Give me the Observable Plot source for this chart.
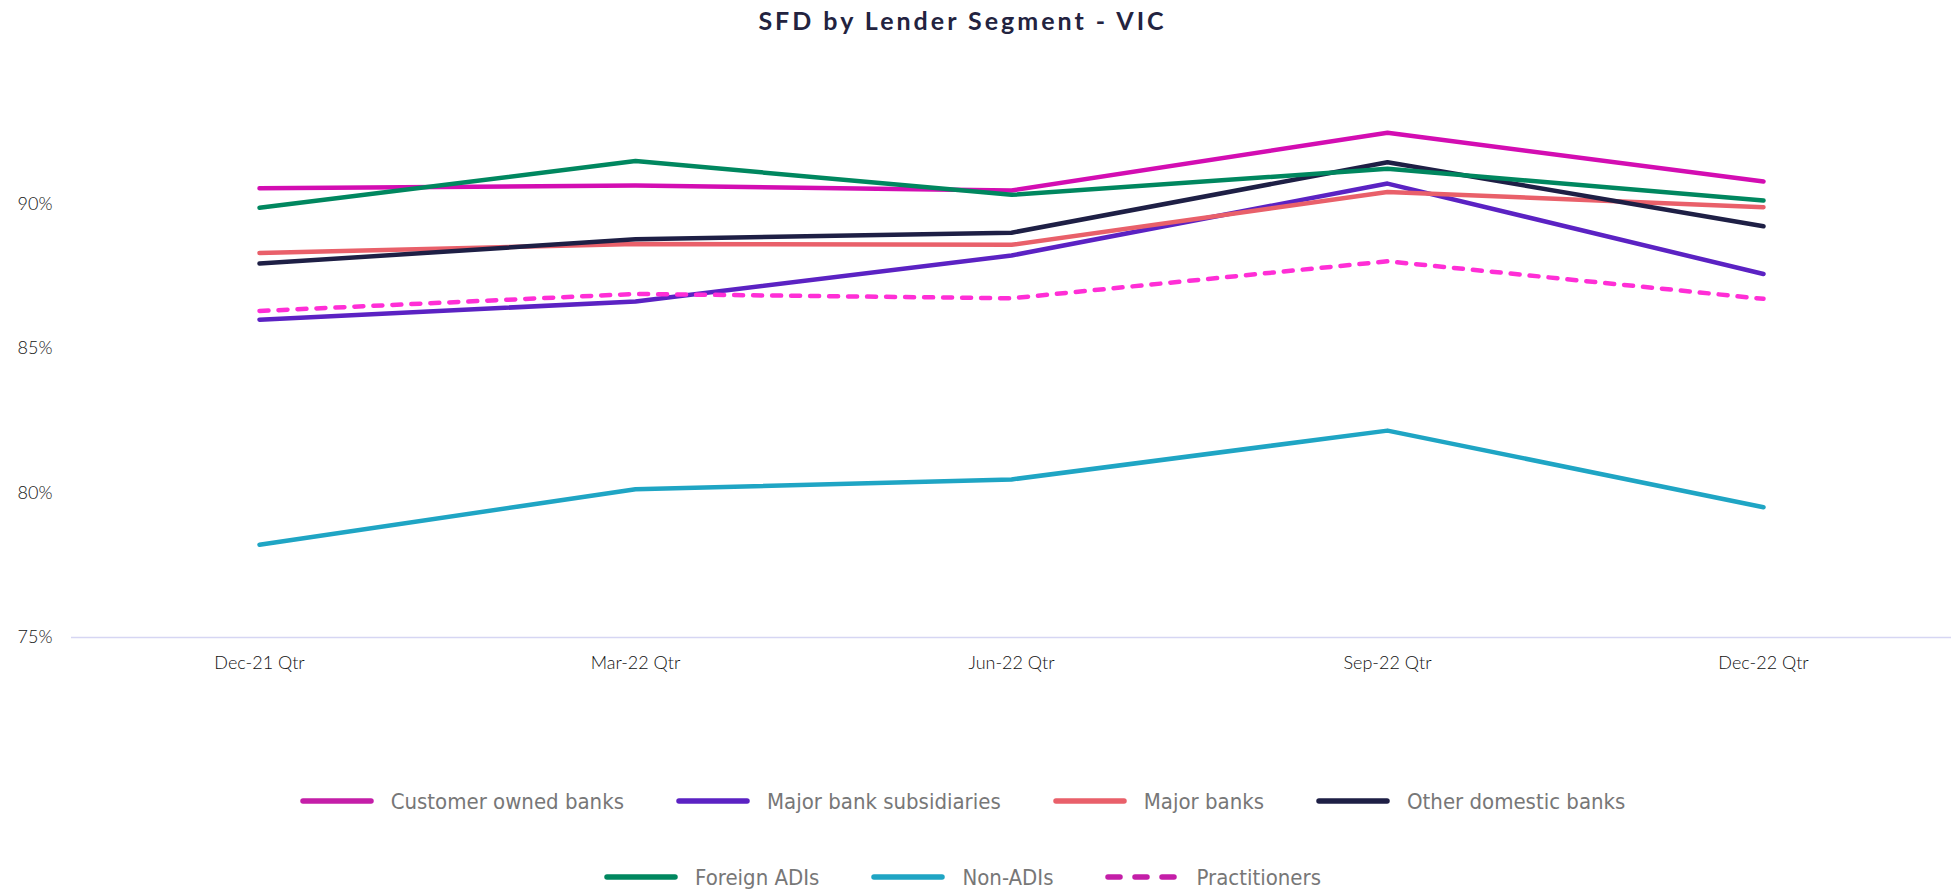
<!DOCTYPE html>
<html>
<head>
<meta charset="utf-8">
<script src="https://cdn.jsdelivr.net/npm/d3@7"></script>
<script src="https://cdn.jsdelivr.net/npm/@observablehq/plot@0.6"></script>
<style>
  body { margin: 0; background: #ffffff; width: 1955px; }
  #title { height: 40px; line-height: 40px; font-family: Lato, sans-serif; font-weight: 700; font-size: 25px; letter-spacing: 3px; color: #23233f; text-align: center; padding-right: 30px; }
  #chart svg { display: block; }
  #chart svg text { font-weight: 300; }
  #legend { padding-right: 30px; font-family: "Liberation Sans Narrow", "DejaVu Sans Condensed", sans-serif; font-size: 22px; color: #777777; }
  .lrow { display: flex; justify-content: center; align-items: center; height: 76px; }
  .litem { display: flex; align-items: center; margin: 0 26px; }
  .litem svg { margin-right: 17px; display: block; }
</style>
</head>
<body>
<div id="title">SFD by Lender Segment - VIC</div>
<div id="chart"></div>
<div id="legend"></div>
<script>
// ---- data ----
const quarters = ["Dec-21 Qtr", "Mar-22 Qtr", "Jun-22 Qtr", "Sep-22 Qtr", "Dec-22 Qtr"];
const segments = ["Customer owned banks", "Major bank subsidiaries", "Major banks", "Other domestic banks", "Foreign ADIs", "Non-ADIs", "Practitioners"];
const customerOwnedBanks    = [90.55, 90.64, 90.47, 92.47, 90.78];
const majorBankSubsidiaries = [86.00, 86.63, 88.22, 90.71, 87.58];
const majorBanks            = [88.31, 88.62, 88.59, 90.42, 89.89];
const otherDomesticBanks    = [87.94, 88.78, 89.01, 91.45, 89.23];
const foreignADIs           = [89.87, 91.49, 90.32, 91.22, 90.12];
const nonADIs               = [78.21, 80.13, 80.47, 82.16, 79.51];
const practitioners         = [86.30, 86.89, 86.74, 88.02, 86.72];
const yTicks = [75, 80, 85, 90];

// ---- palette ----
const lineColors   = ["#D30DB2", "#5B22C3", "#E9606A", "#1E1F45", "#00875F", "#1FA5C4", "#FF2ED6"];
const legendColors = ["#C41EA8", "#5B22C3", "#E9606A", "#1E1F45", "#00875F", "#1FA5C4", "#C41EA8"];

const seriesValues = [customerOwnedBanks, majorBankSubsidiaries, majorBanks, otherDomesticBanks, foreignADIs, nonADIs, practitioners];
const rows = segments.flatMap((s, i) => quarters.map((q, j) => ({segment: s, quarter: q, value: seriesValues[i][j]})));
const solidRows = rows.filter(d => d.segment !== "Practitioners");
const dashedRows = rows.filter(d => d.segment === "Practitioners");

const chart = Plot.plot({
  width: 1955,
  height: 660,
  marginLeft: 71,
  marginRight: 4,
  marginTop: 48,
  marginBottom: 63,
  style: {fontFamily: "Lato, sans-serif", fontSize: "18px", color: "#111111", background: "#ffffff", overflow: "visible"},
  x: {type: "point", domain: quarters, padding: 0.5, align: 0.5, label: null, tickSize: 0, tickPadding: 19},
  y: {domain: [75, 94], ticks: yTicks, tickFormat: d => d + "%", label: null, tickSize: 0, tickPadding: 19},
  color: {domain: segments, range: lineColors},
  marks: [
    Plot.ruleY([75], {stroke: "#d6d6f3", strokeWidth: 1.5}),
    Plot.line(solidRows, {x: "quarter", y: "value", z: "segment", stroke: "segment", strokeWidth: 4.5, strokeLinecap: "round", strokeLinejoin: "round"}),
    Plot.line(dashedRows, {x: "quarter", y: "value", z: "segment", stroke: "segment", strokeWidth: 4.5, strokeLinecap: "round", strokeLinejoin: "round", strokeDasharray: "9,10"})
  ]
});
document.getElementById("chart").appendChild(chart);

// ---- legend ----
const legendRows = [[0, 1, 2, 3], [4, 5, 6]];
const legend = document.getElementById("legend");
legend.style.paddingTop = "63px";
legendRows.forEach(r => {
  const row = document.createElement("div");
  row.className = "lrow";
  r.forEach(i => {
    const item = document.createElement("div");
    item.className = "litem";
    const dashed = segments[i] === "Practitioners";
    item.innerHTML = `<svg width="74" height="10"><line x1="3" x2="${dashed ? 69 : 71}" y1="5" y2="5" stroke="${legendColors[i]}" stroke-width="5.5" stroke-linecap="round" ${dashed ? 'stroke-dasharray="12,15"' : ''}/></svg><span>${segments[i]}</span>`;
    row.appendChild(item);
  });
  legend.appendChild(row);
});
</script>
</body>
</html>
